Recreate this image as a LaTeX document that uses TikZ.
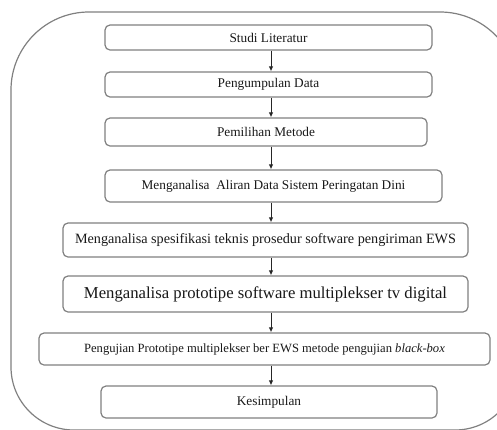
\documentclass[tikz,border=0pt]{standalone}
\usepackage{fontspec}
\setmainfont{Liberation Serif}
\usepackage{tikz}
\usetikzlibrary{arrows.meta}

\begin{document}
\begin{tikzpicture}[x=1pt, y=-1pt,
                    stage/.style={rectangle, rounded corners=5pt, draw=black!50, line width=1.2pt, fill=white,
                                  inner sep=0pt, font=\fontsize{13.3}{16}\selectfont, text=black!90},
                    flow/.style={-{Latex[length=5pt, width=4.5pt]}, line width=1pt, black!85},
                    outline/.style={draw=black!50, line width=1.2pt}]

            \useasboundingbox (0,0) rectangle (497,429);
            \begin{scope}
                \clip (0,0) rectangle (497,429);
                \draw[outline] (11,240) [rounded corners=78pt] -- (11,12) -- (518,12)
                               [rounded corners=63pt] -- (518,430) -- (11,430) -- cycle;
            \end{scope}

            \coordinate (axis) at (271,0);

            \node[stage, minimum width=327, minimum height=25] (s1) at (268.5,37.5) {Studi Literatur};
            \node[stage, minimum width=327, minimum height=25] (s2) at (268.5,84.5) {Pengumpulan Data};
            \node[stage, minimum width=322, minimum height=28] (s3) at (266,132)    {Pemilihan Metode};
            \node[stage, minimum width=337, minimum height=32] (s4) at (273.5,186)  {Menganalisa\ \ Aliran Data Sistem Peringatan Dini};
            \node[stage, minimum width=405, minimum height=34, font=\fontsize{14.2}{17}\selectfont] (s5) at (265.5,240) {Menganalisa spesifikasi teknis prosedur software pengiriman EWS};
            \node[stage, minimum width=405, minimum height=36, font=\fontsize{16.7}{19}\selectfont] (s6) at (265.5,294) {Menganalisa prototipe software multiplekser tv digital};
            \node[stage, minimum width=451, minimum height=32, font=\fontsize{12.6}{15}\selectfont] (s7) at (264.5,349) {Pengujian Prototipe multiplekser ber EWS metode pengujian \textit{black-box}};
            \node[stage, minimum width=336, minimum height=32] (s8) at (269,402)    {Kesimpulan};

            \draw[flow] (s1.south -| axis) -- (s2.north -| axis);
            \draw[flow] (s2.south -| axis) -- (s3.north -| axis);
            \draw[flow] (s3.south -| axis) -- (s4.north -| axis);
            \draw[flow] (s4.south -| axis) -- (s5.north -| axis);
            \draw[flow] (s5.south -| axis) -- (s6.north -| axis);
            \draw[flow] (s6.south -| axis) -- (s7.north -| axis);
            \draw[flow] (s7.south -| axis) -- (s8.north -| axis);
        \end{tikzpicture}
\end{document}
